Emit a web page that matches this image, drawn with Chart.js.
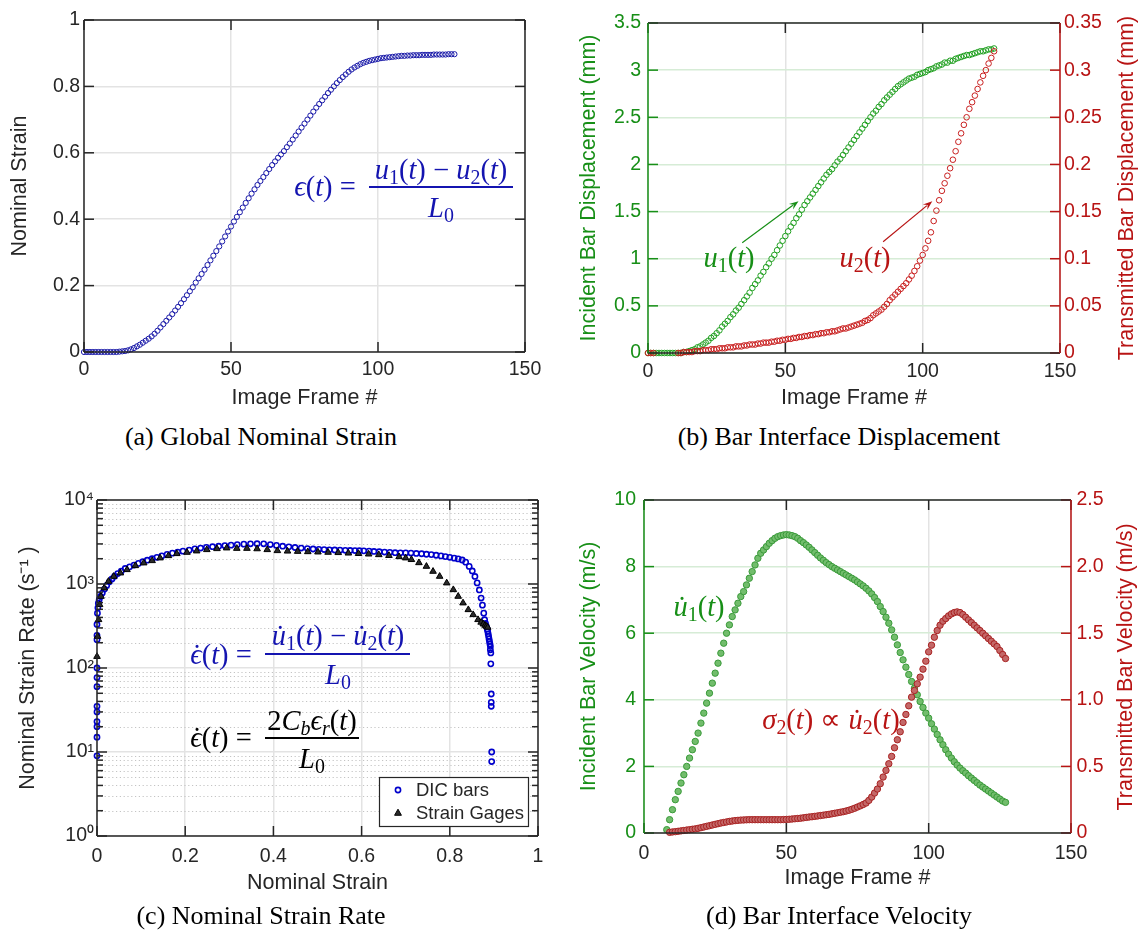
<!DOCTYPE html>
<html>
<head>
<meta charset="utf-8">
<script src="https://cdn.jsdelivr.net/npm/chart.js@4.4.1/dist/chart.umd.min.js"></script>
<style>
  body { margin: 0; background: #fff; width: 1138px; height: 930px; position: relative; overflow: hidden; }
  canvas { position: absolute; }
  .t { position: absolute; transform: translate(-50%, -50%); white-space: nowrap; z-index: 2; line-height: 1; }
  .m { font-family: 'Liberation Serif', 'Times New Roman', serif; font-size: 28.5px; }
  .m sub { font-size: 70%; vertical-align: -0.28em; line-height: 0; }
  .cap { font-family: 'Liberation Serif', 'Times New Roman', serif; font-size: 26px; color: #000; }
  .yt { position: absolute; transform: translate(-50%, -50%) rotate(-90deg); white-space: nowrap; z-index: 2;
        font-family: 'Liberation Sans', Arial, sans-serif; font-size: 21.5px; line-height: 1; }
  .bar { position: absolute; height: 2px; z-index: 2; }
  .d { position: relative; display: inline-block; }
  .d::after { content: '\02D9'; position: absolute; left: 60%; top: 0.02em; transform: translateX(-50%); font-style: normal; }
</style>
</head>
<body>
<canvas id="ca" width="560" height="420" style="left:0;top:0"></canvas>
<canvas id="cb" width="578" height="420" style="left:560px;top:0"></canvas>
<canvas id="cc" width="560" height="460" style="left:0;top:470px"></canvas>
<canvas id="cd" width="578" height="460" style="left:560px;top:470px"></canvas>
<script>
// ---- data ----
const FRAMES = [0,1,2,3,4,5,6,7,8,9,10,11,12,13,14,15,16,17,18,19,20,21,22,23,24,25,26,27,28,29,
  30,31,32,33,34,35,36,37,38,39,40,41,42,43,44,45,46,47,48,49,50,51,52,53,54,55,56,57,58,59,
  60,61,62,63,64,65,66,67,68,69,70,71,72,73,74,75,76,77,78,79,80,81,82,83,84,85,86,87,88,89,
  90,91,92,93,94,95,96,97,98,99,100,101,102,103,104,105,106,107,108,109,110,111,112,113,114,115,
  116,117,118,119,120,121,122,123,124,125,126,127];

// (a) nominal strain per frame
const STRAIN = [0,0,0,0,0,0,0,0,0,0,0,0,
  0.001,0.002,0.003,0.005,0.008,0.012,0.017,0.022,0.028,0.034,
  0.040,0.047,0.055,0.064,0.074,0.084,0.094,0.104,0.114,0.125,
  0.136,0.147,0.159,0.171,0.183,0.195,0.209,0.222,0.235,0.248,
  0.262,0.276,0.290,0.304,0.318,0.333,0.348,0.363,0.378,0.393,
  0.407,0.421,0.435,0.449,0.463,0.477,0.490,0.503,0.515,0.527,
  0.539,0.551,0.563,0.574,0.585,0.595,0.605,0.617,0.628,0.640,
  0.652,0.664,0.676,0.688,0.700,0.712,0.724,0.736,0.747,0.758,
  0.769,0.780,0.790,0.800,0.810,0.819,0.828,0.836,0.844,0.851,
  0.857,0.862,0.867,0.871,0.874,0.877,0.879,0.881,0.883,0.885,
  0.886,0.887,0.888,0.889,0.890,0.891,0.892,0.892,0.893,0.893,
  0.894,0.894,0.894,0.895,0.895,0.895,0.895,0.896,0.896,0.896,
  0.896,0.896,0.897,0.897,0.897,null];

// (b) incident bar displacement u1 (mm)
const U1 = [0,0,0,0,0,0,0,0,0,0,0,0,
  0.00,0.01,0.01,0.02,0.03,0.04,0.06,0.07,0.09,0.11,
  0.13,0.16,0.18,0.21,0.24,0.28,0.31,0.34,0.38,0.41,
  0.45,0.48,0.52,0.56,0.60,0.64,0.69,0.73,0.77,0.82,
  0.86,0.91,0.95,1.00,1.04,1.09,1.14,1.19,1.24,1.29,
  1.34,1.38,1.43,1.47,1.52,1.57,1.61,1.65,1.69,1.73,
  1.77,1.81,1.85,1.89,1.92,1.95,1.99,2.03,2.06,2.10,
  2.14,2.18,2.22,2.26,2.30,2.34,2.38,2.42,2.46,2.50,
  2.54,2.57,2.61,2.64,2.68,2.71,2.74,2.77,2.80,2.83,
  2.85,2.87,2.89,2.91,2.92,2.93,2.95,2.96,2.97,2.98,
  3.00,3.01,3.02,3.04,3.05,3.06,3.08,3.08,3.10,3.10,
  3.12,3.13,3.14,3.15,3.16,3.16,3.17,3.18,3.19,3.20,
  3.20,3.21,3.22,3.22,3.23,null];

// (b) transmitted bar displacement u2 (mm)
const U2 = [0,0,0,null,null,null,null,null,null,null,null,0,
  0.000,0.001,0.001,0.001,0.001,0.002,0.002,0.002,0.003,0.003,
  0.003,0.004,0.004,0.004,0.005,0.005,0.005,0.006,0.006,0.006,
  0.007,0.007,0.007,0.008,0.008,0.009,0.009,0.009,0.010,0.010,
  0.011,0.011,0.011,0.012,0.012,0.013,0.013,0.014,0.014,0.015,
  0.015,0.016,0.016,0.017,0.017,0.018,0.018,0.019,0.019,0.020,
  0.020,0.021,0.021,0.022,0.022,0.023,0.023,0.024,0.025,0.026,
  0.026,0.027,0.028,0.029,0.030,0.031,0.032,0.034,0.035,0.037,
  0.040,0.042,0.044,0.046,0.049,0.052,0.056,0.059,0.062,0.065,
  0.068,0.071,0.074,0.078,0.082,0.087,0.092,0.098,0.104,0.111,
  0.119,0.128,0.140,0.151,0.162,0.172,0.180,0.188,0.196,0.205,
  0.214,0.224,0.233,0.242,0.250,0.259,0.266,0.273,0.280,0.287,
  0.294,0.300,0.307,0.313,0.320,null];

// (c) DIC strain rate per frame (1/s), plotted against STRAIN
const DIC_RATE = [9,15,20,23,30,35,60,77,100,217,245,330,
  450,520,590,650,710,780,870,960,1060,1150,
  1240,1330,1420,1530,1600,1680,1760,1840,1920,2000,
  2080,2160,2250,2330,2400,2460,2530,2620,2680,2730,
  2780,2820,2860,2900,2940,2980,3010,3020,3010,2950,
  2880,2820,2770,2720,2680,2640,2610,2590,2570,2550,
  2540,2530,2520,2510,2500,2490,2480,2460,2440,2420,
  2400,2380,2360,2350,2345,2335,2310,2290,2260,2240,
  2200,2160,2120,2080,2030,1990,1930,1820,1620,1430,
  1230,1030,850,680,560,450,376,340,313,290,
  273,255,238,222,207,193,181,165,151,112,
  49,39,35,10,7.7,null,null,null,null,null,
  null,null,null,null,null,null];

// (c) strain gage series
const GAGE_STRAIN = [0,0.0014,0.0036,0.006,0.009,0.0165,0.026,0.038,0.053,0.068,
  0.087,0.106,0.125,0.143,0.162,0.181,0.204,0.226,0.249,0.272,
  0.294,0.317,0.340,0.363,0.386,0.409,0.432,0.455,0.478,0.501,
  0.524,0.547,0.570,0.593,0.616,0.639,0.662,0.685,0.700,0.713,
  0.730,0.747,0.762,0.777,0.793,0.808,0.819,0.830,0.842,0.853,
  0.864,0.871,0.876,0.880,0.883,0.886];
const GAGE_RATE = [137,238,376,567,712,896,1074,1232,1350,1480,
  1650,1778,1893,2040,2170,2296,2378,2470,2560,2630,
  2680,2650,2650,2620,2560,2490,2460,2440,2420,2400,
  2380,2360,2330,2300,2270,2230,2180,2110,2040,1950,
  1790,1620,1413,1232,1028,855,712,594,494,431,
  376,350,334,322,313,305];

// (d) incident / transmitted bar velocity (m/s)
const V1 = [null,null,null,null,null,null,null,null,0.10,0.40,
  0.70,1.00,1.25,1.50,1.75,2.00,2.25,2.50,2.75,3.00,
  3.30,3.60,3.90,4.20,4.50,4.80,5.10,5.40,5.70,6.00,
  6.25,6.50,6.70,6.90,7.10,7.25,7.45,7.65,7.85,8.05,
  8.25,8.40,8.50,8.60,8.70,8.78,8.85,8.90,8.93,8.95,
  8.96,8.95,8.93,8.90,8.85,8.78,8.72,8.65,8.58,8.50,
  8.42,8.34,8.26,8.19,8.12,8.06,8.00,7.95,7.90,7.85,
  7.80,7.75,7.70,7.65,7.60,7.54,7.48,7.42,7.35,7.27,
  7.18,7.07,6.95,6.80,6.65,6.48,6.30,6.10,5.88,5.65,
  5.42,5.20,4.98,4.76,4.55,4.35,4.15,3.95,3.77,3.60,
  3.45,3.28,3.12,2.96,2.80,2.65,2.50,2.37,2.25,2.14,
  2.04,1.95,1.87,1.80,1.72,1.65,1.58,1.51,1.44,1.38,
  1.32,1.26,1.20,1.14,1.08,1.02,0.96,0.92];
const V2 = [null,null,null,null,null,null,null,null,null,0.005,
  0.008,0.010,0.013,0.016,0.019,0.022,0.025,0.028,0.031,0.035,
  0.040,0.045,0.050,0.055,0.060,0.065,0.070,0.075,0.079,0.083,
  0.087,0.090,0.093,0.095,0.097,0.098,0.099,0.100,0.100,0.100,
  0.100,0.100,0.100,0.100,0.100,0.100,0.100,0.100,0.100,0.101,
  0.102,0.103,0.105,0.107,0.109,0.111,0.114,0.117,0.120,0.122,
  0.125,0.128,0.131,0.134,0.137,0.140,0.144,0.148,0.152,0.156,
  0.160,0.165,0.171,0.178,0.186,0.195,0.204,0.214,0.225,0.245,
  0.270,0.300,0.330,0.370,0.420,0.470,0.520,0.575,0.640,0.700,
  0.760,0.830,0.890,0.955,1.020,1.070,1.120,1.170,1.230,1.290,
  1.360,1.410,1.470,1.520,1.560,1.590,1.610,1.630,1.645,1.655,
  1.660,1.655,1.640,1.620,1.600,1.580,1.560,1.540,1.520,1.500,
  1.480,1.460,1.440,1.420,1.400,1.370,1.340,1.310];

// ---- ticks ----
const FRAME_TICKS = [0, 50, 100, 150];
const FRAME_LABELS = ['0', '50', '100', '150'];
const UNIT_TICKS = [0, 0.2, 0.4, 0.6, 0.8, 1];
const UNIT_LABELS = ['0', '0.2', '0.4', '0.6', '0.8', '1'];
const B_Y_TICKS = [0, 0.5, 1, 1.5, 2, 2.5, 3, 3.5];
const B_Y_LABELS = ['0', '0.5', '1', '1.5', '2', '2.5', '3', '3.5'];
const B_Y2_TICKS = [0, 0.05, 0.1, 0.15, 0.2, 0.25, 0.3, 0.35];
const B_Y2_LABELS = ['0', '0.05', '0.1', '0.15', '0.2', '0.25', '0.3', '0.35'];
const C_Y_TICKS = [1, 10, 100, 1000, 10000];
const C_Y_LABELS = ['10\u2070', '10\u00b9', '10\u00b2', '10\u00b3', '10\u2074'];
const C_Y_MINOR = [2,3,4,5,6,7,8,9, 20,30,40,50,60,70,80,90, 200,300,400,500,600,700,800,900,
  2000,3000,4000,5000,6000,7000,8000,9000];
const D_Y_TICKS = [0, 2, 4, 6, 8, 10];
const D_Y_LABELS = ['0', '2', '4', '6', '8', '10'];
const D_Y2_TICKS = [0, 0.5, 1, 1.5, 2, 2.5];
const D_Y2_LABELS = ['0', '0.5', '1.0', '1.5', '2.0', '2.5'];

// ---- styling ----
const INK = '#262626';
const GREEN = '#178f17';
const RED = '#b81414';
const BLUE = '#1a1aa8';
const GRID = '#e3e3e3';
const GRID_G = '#d6ecd6';
Chart.defaults.font.family = "'Liberation Sans', Arial, Helvetica, sans-serif";
Chart.defaults.color = INK;

function pts(xs, ys) {
  const out = [];
  xs.forEach((x, i) => { if (x != null && ys[i] != null) out.push({ x: x, y: ys[i] }); });
  return out;
}

function axis(o) {
  return {
    type: o.type || 'linear',
    position: o.position,
    min: o.min,
    max: o.max,
    afterBuildTicks: s => { s.ticks = o.ticks.map(v => ({ value: v })); },
    afterFit: s => { if (s.isHorizontal()) s.height = o.size; else s.width = o.size; },
    ticks: { callback: (v, i) => o.labels[i], color: o.color || INK, padding: o.pad,
             font: { size: 19.5 }, maxRotation: 0, autoSkip: false },
    grid: o.grid ? { color: o.grid, lineWidth: 1.5, drawTicks: false }
                 : { display: false, drawTicks: false },
    border: { display: false },
    title: { display: !!o.title, text: o.title, color: o.color || INK,
             font: { size: 21.5 }, padding: o.titlePad || 0 }
  };
}

// plot box with inward ticks, plus optional dotted minor grid
const boxPlugin = {
  id: 'box',
  beforeDatasetsDraw(chart, args, o) {
    if (!o.minor) return;
    const { ctx, chartArea: a } = chart;
    const s = chart.scales[o.minor.axis];
    ctx.save();
    ctx.strokeStyle = o.minor.color;
    ctx.lineWidth = 1;
    ctx.setLineDash([1.2, 2.6]);
    o.minor.values.forEach(v => {
      const y = Math.round(s.getPixelForValue(v)) + 0.5;
      ctx.beginPath(); ctx.moveTo(a.left, y); ctx.lineTo(a.right, y); ctx.stroke();
    });
    ctx.restore();
  },
  afterDatasetsDraw(chart, args, o) {
    const { ctx, chartArea: a } = chart;
    ctx.save();
    ctx.lineWidth = 1.5;
    const seg = (x1, y1, x2, y2, c) => {
      ctx.strokeStyle = c; ctx.beginPath(); ctx.moveTo(x1, y1); ctx.lineTo(x2, y2); ctx.stroke();
    };
    (o.ticks || []).forEach(t => {
      const s = chart.scales[t.axis];
      const len = t.len || 10;
      t.values.forEach(v => {
        const p = s.getPixelForValue(v);
        t.sides.forEach(side => {
          if (side === 'bottom') seg(p, a.bottom, p, a.bottom - len, t.color);
          if (side === 'top') seg(p, a.top, p, a.top + len, t.color);
          if (side === 'left') seg(a.left, p, a.left + len, p, t.color);
          if (side === 'right') seg(a.right, p, a.right - len, p, t.color);
        });
      });
    });
    const b = o.sides;
    seg(a.left, a.top, a.right, a.top, b.top);
    seg(a.left, a.bottom, a.right, a.bottom, b.bottom);
    seg(a.left, a.top, a.left, a.bottom, b.left);
    seg(a.right, a.top, a.right, a.bottom, b.right);
    ctx.restore();
  }
};

// annotation arrows in data units
const arrowPlugin = {
  id: 'arrows',
  afterDatasetsDraw(chart, args, o) {
    if (!o.list) return;
    const { ctx } = chart;
    const xs = chart.scales.x, ys = chart.scales.y;
    o.list.forEach(ar => {
      const x1 = xs.getPixelForValue(ar.from[0]), y1 = ys.getPixelForValue(ar.from[1]);
      const x2 = xs.getPixelForValue(ar.to[0]), y2 = ys.getPixelForValue(ar.to[1]);
      const ang = Math.atan2(y2 - y1, x2 - x1), h = 10, w = 0.36;
      ctx.save();
      ctx.strokeStyle = ar.color; ctx.fillStyle = ar.color; ctx.lineWidth = 1.2;
      ctx.beginPath(); ctx.moveTo(x1, y1);
      ctx.lineTo(x2 - Math.cos(ang) * h * 0.7, y2 - Math.sin(ang) * h * 0.7); ctx.stroke();
      ctx.beginPath(); ctx.moveTo(x2, y2);
      ctx.lineTo(x2 - h * Math.cos(ang - w), y2 - h * Math.sin(ang - w));
      ctx.lineTo(x2 - h * 0.6 * Math.cos(ang), y2 - h * 0.6 * Math.sin(ang));
      ctx.lineTo(x2 - h * Math.cos(ang + w), y2 - h * Math.sin(ang + w));
      ctx.closePath(); ctx.fill();
      ctx.restore();
    });
  }
};

// boxed legend in the lower right of the plot
const legendPlugin = {
  id: 'boxLegend',
  afterDraw(chart, args, o) {
    if (!o.show) return;
    const { ctx, chartArea: a } = chart;
    const w = 149, h = 49, x = a.right - 10 - w, y = a.bottom - 10 - h;
    ctx.save();
    ctx.fillStyle = '#fff'; ctx.fillRect(x, y, w, h);
    ctx.strokeStyle = INK; ctx.lineWidth = 1.2; ctx.strokeRect(x + 0.5, y + 0.5, w, h);
    ctx.font = "18.5px 'Liberation Sans', Arial, sans-serif";
    ctx.textBaseline = 'middle';
    chart.data.datasets.slice().reverse().forEach((ds, i) => {
      const cy = y + 13 + i * 23, cx = x + 19;
      ctx.strokeStyle = ds.borderColor; ctx.fillStyle = ds.backgroundColor; ctx.lineWidth = ds.borderWidth;
      ctx.beginPath();
      if (ds.pointStyle === 'triangle') {
        const r = ds.pointRadius;
        ctx.moveTo(cx, cy - r); ctx.lineTo(cx + r * 0.9, cy + r * 0.6); ctx.lineTo(cx - r * 0.9, cy + r * 0.6); ctx.closePath();
        ctx.fill(); ctx.stroke();
      } else {
        ctx.arc(cx, cy, ds.pointRadius, 0, Math.PI * 2); ctx.stroke();
      }
      ctx.fillStyle = INK;
      ctx.fillText(ds.label, x + 37, cy + 1);
    });
    ctx.restore();
  }
};

function panel(id, cfg) {
  return new Chart(document.getElementById(id), {
    type: 'scatter',
    data: { datasets: cfg.datasets },
    options: {
      responsive: false, animation: false, devicePixelRatio: 1, events: [],
      layout: { padding: cfg.padding },
      scales: cfg.scales,
      plugins: {
        legend: { display: false }, tooltip: { enabled: false },
        box: cfg.box, arrows: cfg.arrows || {}, boxLegend: cfg.legend || {}
      }
    },
    plugins: [boxPlugin, arrowPlugin, legendPlugin]
  });
}

function circles(label, data, color, r, bw, fill) {
  return { label: label, data: data, pointStyle: 'circle', pointRadius: r, borderWidth: bw,
           borderColor: color, backgroundColor: fill || 'rgba(0,0,0,0)', clip: false };
}

// (a) Global Nominal Strain
panel('ca', {
  padding: { top: 20, right: 35, left: 0, bottom: 0 },
  datasets: [circles('strain', pts(FRAMES, STRAIN), BLUE, 2.6, 1)],
  scales: {
    x: axis({ position: 'bottom', min: 0, max: 150, ticks: FRAME_TICKS, labels: FRAME_LABELS, size: 68, pad: 6,
              grid: GRID, title: 'Image Frame #', titlePad: 9 }),
    y: axis({ position: 'left', min: 0, max: 1, ticks: UNIT_TICKS, labels: UNIT_LABELS, size: 84, pad: 4,
              grid: GRID, title: 'Nominal Strain', titlePad: 7 })
  },
  box: {
    sides: { top: INK, bottom: INK, left: INK, right: INK },
    ticks: [{ axis: 'x', values: FRAME_TICKS, sides: ['bottom', 'top'], color: INK },
            { axis: 'y', values: UNIT_TICKS, sides: ['left', 'right'], color: INK }]
  }
});

// (b) Bar Interface Displacement
panel('cb', {
  padding: { top: 23, right: 0, left: 0, bottom: 0 },
  datasets: [
    Object.assign(circles('u2', pts(FRAMES, U2), '#c81e1e', 2.8, 1), { yAxisID: 'y2' }),
    circles('u1', pts(FRAMES, U1), '#22a022', 2.8, 1)
  ],
  scales: {
    x: axis({ position: 'bottom', min: 0, max: 150, ticks: FRAME_TICKS, labels: FRAME_LABELS, size: 67, pad: 7,
              grid: GRID, title: 'Image Frame #', titlePad: 9 }),
    y: axis({ position: 'left', min: 0, max: 3.5, ticks: B_Y_TICKS, labels: B_Y_LABELS, size: 88, pad: 7,
              color: GREEN, grid: GRID_G, title: 'Incident Bar Displacement (mm)', titlePad: 16 }),
    y2: axis({ position: 'right', min: 0, max: 0.35, ticks: B_Y2_TICKS, labels: B_Y2_LABELS, size: 78, pad: 4,
               color: RED })
  },
  box: {
    sides: { top: INK, bottom: INK, left: GREEN, right: RED },
    ticks: [{ axis: 'x', values: FRAME_TICKS, sides: ['bottom', 'top'], color: INK },
            { axis: 'y', values: B_Y_TICKS, sides: ['left'], color: GREEN },
            { axis: 'y2', values: B_Y2_TICKS, sides: ['right'], color: RED }]
  },
  arrows: { list: [
    { from: [34.3, 1.17], to: [54.8, 1.61], color: GREEN },
    { from: [85.6, 1.18], to: [103.5, 1.61], color: RED }
  ] }
});

// (c) Nominal Strain Rate
panel('cc', {
  padding: { top: 30, right: 22, left: 0, bottom: 0 },
  datasets: [
    { label: 'Strain Gages', data: pts(GAGE_STRAIN, GAGE_RATE), pointStyle: 'triangle', pointRadius: 3.8,
      borderWidth: 1, borderColor: '#000', backgroundColor: '#2a2a2a', clip: false },
    circles('DIC bars', pts(STRAIN, DIC_RATE), '#0000cc', 2.6, 1.6)
  ],
  scales: {
    x: axis({ position: 'bottom', min: 0, max: 1, ticks: UNIT_TICKS, labels: UNIT_LABELS, size: 94, pad: 9,
              grid: GRID, title: 'Nominal Strain', titlePad: 34 }),
    y: axis({ type: 'logarithmic', position: 'left', min: 1, max: 10000, ticks: C_Y_TICKS, labels: C_Y_LABELS,
              size: 97, pad: 3, grid: GRID, title: 'Nominal Strain Rate (s\u207b\u00b9 )', titlePad: 15 })
  },
  box: {
    sides: { top: INK, bottom: INK, left: INK, right: INK },
    minor: { axis: 'y', values: C_Y_MINOR, color: '#c4c4c4' },
    ticks: [{ axis: 'x', values: UNIT_TICKS, sides: ['bottom', 'top'], color: INK },
            { axis: 'y', values: C_Y_TICKS, sides: ['left', 'right'], color: INK },
            { axis: 'y', values: C_Y_MINOR, sides: ['left', 'right'], color: INK, len: 6 }]
  },
  legend: { show: true }
});

// (d) Bar Interface Velocity
panel('cd', {
  padding: { top: 30, right: 0, left: 0, bottom: 0 },
  datasets: [
    Object.assign(circles('v2', pts(FRAMES, V2), '#a82222', 3.2, 1, '#c46868'), { yAxisID: 'y2' }),
    circles('v1', pts(FRAMES, V1), '#3a9a3a', 3.2, 1, '#72bd6c')
  ],
  scales: {
    x: axis({ position: 'bottom', min: 0, max: 150, ticks: FRAME_TICKS, labels: FRAME_LABELS, size: 97, pad: 8.5,
              grid: GRID, title: 'Image Frame #', titlePad: 39 }),
    y: axis({ position: 'left', min: 0, max: 10, ticks: D_Y_TICKS, labels: D_Y_LABELS, size: 84, pad: 8,
              color: GREEN, grid: GRID_G, title: 'Incident Bar Velocity (m/s)', titlePad: 16 }),
    y2: axis({ position: 'right', min: 0, max: 2.5, ticks: D_Y2_TICKS, labels: D_Y2_LABELS, size: 67, pad: 5.5,
               color: RED })
  },
  box: {
    sides: { top: INK, bottom: INK, left: GREEN, right: RED },
    ticks: [{ axis: 'x', values: FRAME_TICKS, sides: ['bottom', 'top'], color: INK },
            { axis: 'y', values: D_Y_TICKS, sides: ['left'], color: GREEN },
            { axis: 'y2', values: D_Y2_TICKS, sides: ['right'], color: RED }]
  }
});

// ---- text overlays: equations, right-hand axis titles, captions ----
function put(cls, html, cx, cy, color) {
  const el = document.createElement('div');
  el.className = cls;
  el.innerHTML = html;
  el.style.left = cx + 'px';
  el.style.top = cy + 'px';
  if (color) el.style.color = color;
  document.body.appendChild(el);
}
function bar(x1, x2, y, color) {
  const el = document.createElement('div');
  el.className = 'bar';
  el.style.left = x1 + 'px'; el.style.width = (x2 - x1) + 'px';
  el.style.top = (y - 1) + 'px'; el.style.background = color;
  document.body.appendChild(el);
}
const dot = s => '<span class="d"><i>' + s + '</i></span>';
const EQ_BLUE = '#1414b0';

put('t m', '<i>\u03f5</i>(<i>t</i>) =', 325, 187, EQ_BLUE);
put('t m', '<i>u</i><sub>1</sub>(<i>t</i>) \u2212 <i>u</i><sub>2</sub>(<i>t</i>)', 441, 170, EQ_BLUE);
bar(369, 513, 187, EQ_BLUE);
put('t m', '<i>L</i><sub>0</sub>', 441, 208, EQ_BLUE);

put('t m', '<i>u</i><sub>1</sub>(<i>t</i>)', 729, 258, GREEN);
put('t m', '<i>u</i><sub>2</sub>(<i>t</i>)', 865, 258, RED);

put('t m', dot('\u03f5') + '(<i>t</i>) =', 221, 655, EQ_BLUE);
put('t m', dot('u') + '<sub>1</sub>(<i>t</i>) \u2212 ' + dot('u') + '<sub>2</sub>(<i>t</i>)', 338, 636, EQ_BLUE);
bar(265, 410, 654, EQ_BLUE);
put('t m', '<i>L</i><sub>0</sub>', 338, 675, EQ_BLUE);

put('t m', dot('\u03f5') + '(<i>t</i>) =', 221, 738, '#000');
put('t m', '2<i>C</i><sub><i>b</i></sub><i>\u03f5</i><sub><i>r</i></sub>(<i>t</i>)', 312, 721, '#000');
bar(265, 359, 738, '#000');
put('t m', '<i>L</i><sub>0</sub>', 312, 759, '#000');

put('t m', dot('u') + '<sub>1</sub>(<i>t</i>)', 699, 607, GREEN);
put('t m', '<i>\u03c3</i><sub>2</sub>(<i>t</i>) \u221d ' + dot('u') + '<sub>2</sub>(<i>t</i>)', 831, 720, RED);

put('yt', 'Transmitted Bar Displacement (mm)', 1127, 188, RED);
put('yt', 'Transmitted Bar Velocity (m/s)', 1126, 667, RED);

put('t cap', '(a) Global Nominal Strain', 261, 437);
put('t cap', '(b) Bar Interface Displacement', 839, 437);
put('t cap', '(c) Nominal Strain Rate', 261, 916);
put('t cap', '(d) Bar Interface Velocity', 839, 916);
</script>
</body>
</html>
